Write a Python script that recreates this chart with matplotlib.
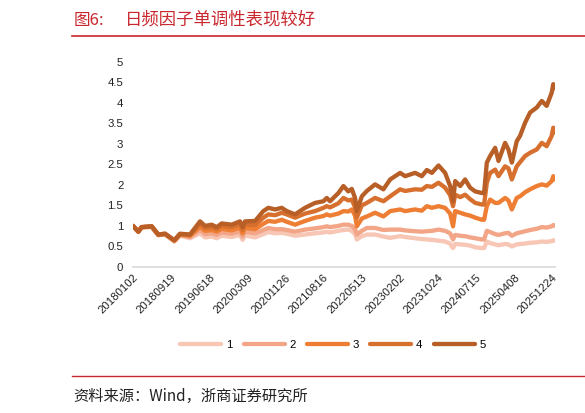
import numpy as np
import pandas as pd
import matplotlib
matplotlib.use("Agg")
import matplotlib.pyplot as plt
from matplotlib.lines import Line2D

plt.rcParams['font.family'] = ['Liberation Sans', 'Noto Sans CJK SC', 'DejaVu Sans']

# 读图估计的净值（各分组）
dates = [
    "2018-01-02", "2018-02-08", "2018-03-03", "2018-05-12", "2018-06-27", "2018-08-13",
    "2018-10-16", "2018-11-25", "2019-02-02", "2019-04-13", "2019-05-18", "2019-07-03",
    "2019-08-07", "2019-09-11", "2019-11-19", "2020-01-16", "2020-02-03", "2020-02-20",
    "2020-04-30", "2020-06-26", "2020-07-31", "2020-09-16", "2020-11-01", "2020-12-06",
    "2021-02-02", "2021-04-12", "2021-06-21", "2021-08-18", "2021-09-10", "2021-10-03",
    "2021-11-30", "2022-01-04", "2022-02-07", "2022-03-03", "2022-03-26", "2022-04-07",
    "2022-05-12", "2022-06-16", "2022-08-12", "2022-10-09", "2022-11-25", "2023-02-02",
    "2023-03-09", "2023-05-17", "2023-07-03", "2023-08-07", "2023-09-11", "2023-10-27",
    "2023-12-12", "2024-01-16", "2024-02-05", "2024-02-20", "2024-03-26", "2024-04-29",
    "2024-06-03", "2024-07-08", "2024-08-23", "2024-09-08", "2024-09-27", "2024-10-20",
    "2024-11-24", "2024-12-17", "2025-02-01", "2025-02-24", "2025-03-20", "2025-04-23",
    "2025-05-16", "2025-06-20", "2025-07-25", "2025-09-09", "2025-10-14", "2025-11-17",
    "2025-12-22", "2026-01-02", "2026-01-14",
]

g1 = [1.00, 0.85, 0.96, 0.97, 0.77, 0.79, 0.62, 0.76, 0.70, 0.82, 0.72, 0.74,
      0.70, 0.76, 0.73, 0.78, 0.66, 0.77, 0.72, 0.80, 0.85, 0.82, 0.83, 0.81,
      0.76, 0.79, 0.82, 0.84, 0.86, 0.84, 0.88, 0.90, 0.91, 0.88, 0.80, 0.67,
      0.75, 0.79, 0.79, 0.74, 0.71, 0.75, 0.73, 0.70, 0.68, 0.67, 0.66, 0.64,
      0.62, 0.57, 0.46, 0.56, 0.55, 0.54, 0.52, 0.48, 0.46, 0.46, 0.62, 0.58,
      0.55, 0.53, 0.56, 0.55, 0.50, 0.55, 0.56, 0.57, 0.59, 0.60, 0.62, 0.61,
      0.63, 0.65, 0.64]
g2 = [1.00, 0.86, 0.97, 0.98, 0.78, 0.80, 0.63, 0.78, 0.73, 0.90, 0.80, 0.82,
      0.78, 0.84, 0.81, 0.87, 0.74, 0.86, 0.82, 0.90, 0.95, 0.92, 0.92, 0.90,
      0.86, 0.91, 0.94, 0.97, 0.99, 0.97, 1.00, 1.03, 1.03, 1.00, 0.92, 0.79,
      0.88, 0.95, 0.95, 0.90, 0.91, 0.91, 0.89, 0.87, 0.86, 0.87, 0.88, 0.91,
      0.88, 0.82, 0.67, 0.78, 0.76, 0.75, 0.72, 0.70, 0.67, 0.67, 0.88, 0.85,
      0.80, 0.78, 0.82, 0.83, 0.76, 0.82, 0.84, 0.87, 0.90, 0.93, 0.97, 0.96,
      0.99, 1.02, 1.01]
g3 = [1.00, 0.86, 0.97, 0.98, 0.78, 0.80, 0.64, 0.79, 0.76, 0.98, 0.88, 0.90,
      0.86, 0.93, 0.89, 0.96, 0.82, 0.95, 0.92, 1.05, 1.12, 1.10, 1.15, 1.10,
      1.03, 1.12, 1.20, 1.24, 1.28, 1.25, 1.30, 1.36, 1.35, 1.40, 1.25, 0.99,
      1.18, 1.23, 1.32, 1.23, 1.36, 1.40, 1.36, 1.40, 1.37, 1.48, 1.44, 1.48,
      1.44, 1.30, 0.99, 1.36, 1.32, 1.28, 1.25, 1.20, 1.15, 1.15, 1.48, 1.64,
      1.56, 1.56, 1.68, 1.62, 1.40, 1.68, 1.72, 1.82, 1.89, 1.97, 2.01, 1.98,
      2.09, 2.21, 2.13]
g4 = [1.00, 0.86, 0.97, 0.99, 0.79, 0.81, 0.65, 0.80, 0.78, 1.05, 0.95, 0.97,
      0.92, 1.00, 0.97, 1.04, 0.90, 1.03, 1.02, 1.20, 1.28, 1.26, 1.32, 1.28,
      1.20, 1.30, 1.36, 1.44, 1.48, 1.45, 1.55, 1.68, 1.62, 1.64, 1.45, 1.20,
      1.50, 1.56, 1.68, 1.60, 1.72, 1.89, 1.85, 1.89, 1.88, 1.97, 1.95, 2.05,
      1.93, 1.75, 1.48, 1.76, 1.70, 1.76, 1.65, 1.56, 1.52, 1.52, 2.05, 2.29,
      2.37, 2.21, 2.45, 2.40, 2.13, 2.45, 2.55, 2.70, 2.78, 2.86, 3.02, 2.94,
      3.19, 3.39, 3.27]
g5 = [1.00, 0.86, 0.97, 0.99, 0.79, 0.81, 0.65, 0.81, 0.79, 1.11, 1.00, 1.03,
      0.97, 1.06, 1.03, 1.11, 0.97, 1.11, 1.12, 1.36, 1.44, 1.40, 1.44, 1.36,
      1.28, 1.44, 1.56, 1.60, 1.68, 1.60, 1.80, 1.97, 1.84, 1.90, 1.68, 1.36,
      1.72, 1.85, 2.01, 1.89, 2.13, 2.29, 2.21, 2.29, 2.21, 2.36, 2.29, 2.47,
      2.29, 1.97, 1.60, 2.09, 1.97, 2.13, 1.93, 1.84, 1.80, 1.80, 2.54, 2.70,
      2.90, 2.58, 3.02, 2.86, 2.54, 3.06, 3.19, 3.51, 3.76, 3.88, 4.04, 3.92,
      4.24, 4.45, 4.35]

groups = ["1", "2", "3", "4", "5"]
colors = ["#F7C6B5", "#F2A687", "#EE7E33", "#D7702E", "#B75F27"]
tick_labels = ["20180102", "20180919", "20190618", "20200309", "20201126", "20210816",
               "20220513", "20230202", "20231024", "20240715", "20250408", "20251224"]

x = pd.to_datetime(dates)
series = [g1, g2, g3, g4, g5]

W, H = 585, 413
fig = plt.figure(figsize=(W / 100, H / 100), dpi=100)
ax = fig.add_axes([133 / W, 1 - 267 / H, 422 / W, 205.5 / H])

for name, vals, c in zip(groups, series, colors):
    ax.plot(x, vals, color=c, lw=3.1, label=name, solid_capstyle="round",
            solid_joinstyle="round")

yt = np.arange(0, 5.01, 0.5)
ax.set_ylim(0, 5)
ax.set_yticks(yt)
ax.set_yticklabels([f"{v:g}" for v in yt])
ax.set_xlim(x[0], x[-1])
ticks = pd.to_datetime(tick_labels, format="%Y%m%d")
ax.set_xticks(ticks)
ax.set_xticklabels(tick_labels, rotation=45, ha="right", va="top",
                   rotation_mode="anchor")
ax.tick_params(axis="both", length=0, labelsize=8.2, colors="#222222")
ax.tick_params(axis="y", pad=7)
ax.tick_params(axis="x", pad=4)
for s in ["top", "right", "left"]:
    ax.spines[s].set_visible(False)
ax.spines["bottom"].set_color("#D9D9D9")
ax.spines["bottom"].set_linewidth(1.2)

fig.legend(loc="center", bbox_to_anchor=(333 / W, 1 - 345 / H), ncol=5,
           frameon=False, fontsize=8.2, handlelength=3.6, handletextpad=0.4,
           columnspacing=1.0)

red = "#C8282E"
fig.text(74 / W, 1 - 20 / H, "图6:", color=red, fontsize=12,
         family=["Noto Sans CJK SC"], va="center", ha="left")
fig.text(125 / W, 1 - 20 / H, "日频因子单调性表现较好", color=red, fontsize=12.5,
         family=["Noto Sans CJK SC"], va="center", ha="left")
fig.add_artist(Line2D([72 / W, 1], [1 - 36 / H, 1 - 36 / H], color=red, lw=1.2))
fig.add_artist(Line2D([72 / W, 1], [1 - 376 / H, 1 - 376 / H], color=red, lw=1.0))
fig.text(73 / W, 1 - 396 / H, "资料来源：Wind，浙商证券研究所", color="#222222",
         fontsize=11, family=["Noto Sans CJK SC"], va="center", ha="left")

fig.savefig("out.png", dpi=100)
